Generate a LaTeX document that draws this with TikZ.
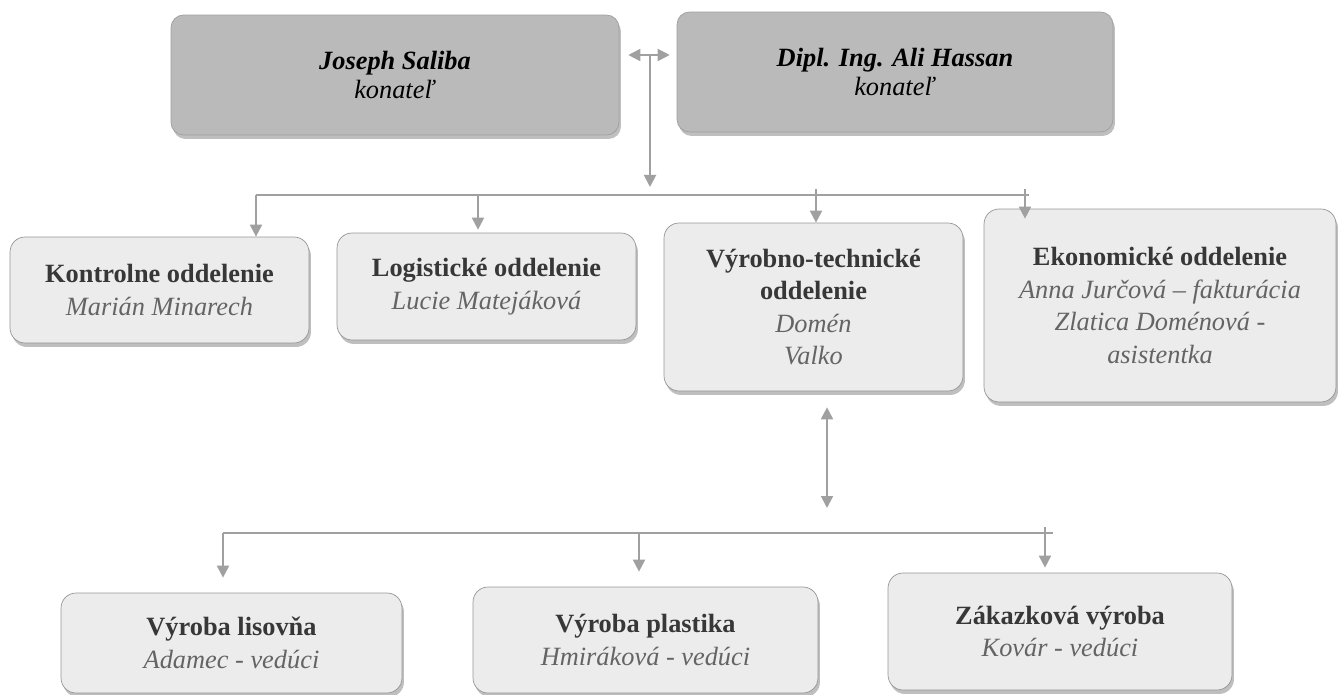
\documentclass[tikz,border=0pt]{standalone}
\usepackage{fontspec}
\setmainfont{Liberation Serif}
\usetikzlibrary{arrows.meta,shadows}

\definecolor{linegray}{RGB}{160,160,160}
\definecolor{boxgray}{RGB}{236,236,236}
\definecolor{headgray}{RGB}{186,186,186}
\definecolor{framegray}{RGB}{150,150,150}
\definecolor{titlegray}{RGB}{55,55,55}
\definecolor{namegray}{RGB}{100,100,100}

\newcommand{\depttitle}[1]{\textcolor{titlegray}{\textbf{#1}}}
\newcommand{\deptname}[1]{\textcolor{namegray}{\textit{#1}}}

\begin{document}
\begin{tikzpicture}[x=0.02cm,y=-0.02cm]
      % Define styles for nodes
      \tikzstyle{boss} = [draw=headgray!85!black, rectangle, rounded corners=0.25cm,
      fill=headgray, align=center, inner sep=0pt,
      font=\fontsize{15}{17}\selectfont,
      drop shadow={shadow xshift=0.04cm, shadow yshift=-0.08cm, fill=black, opacity=0.25}]
      \tikzstyle{dept} = [draw=framegray, rectangle, rounded corners=0.3cm,
      fill=boxgray, align=center, inner sep=0pt,
      font=\fontsize{15}{18.5}\selectfont,
      drop shadow={shadow xshift=0.04cm, shadow yshift=-0.08cm, fill=black, opacity=0.25}]
      \tikzstyle{link} = [draw=linegray, line width=1.1pt]
      \tikzstyle{tip} = [link, -{Triangle[length=0.24cm,width=0.24cm]}]
      \tikzstyle{both} = [link, {Triangle[length=0.24cm,width=0.24cm]}-{Triangle[length=0.24cm,width=0.24cm]}]

      \useasboundingbox (0,0) rectangle (1339,695);

      % Konatelia at top
      \node[boss, minimum width=8.96cm, minimum height=2.4cm] (saliba) at (395,75)
        {\textbf{\textit{Joseph Saliba}}\\ \textit{konateľ}};
      \node[boss, minimum width=8.72cm, minimum height=2.4cm] (hassan) at (895,72)
        {\textbf{\textit{Dipl. Ing. Ali Hassan}}\\ \textit{konateľ}};

      % Departments
      \node[dept, minimum width=5.98cm, minimum height=2.12cm] (kontrolne) at (159.5,290)
        {\depttitle{Kontrolne oddelenie}\\ \deptname{Marián Minarech}};
      \node[dept, minimum width=5.98cm, minimum height=2.14cm] (logisticke) at (486.5,286.5)
        {\depttitle{Logistické oddelenie}\\ \deptname{Lucie Matejáková}};
      \node[dept, minimum width=5.98cm, minimum height=3.36cm] (vyrobno) at (813.5,307)
        {\depttitle{Výrobno-technické}\\ \depttitle{oddelenie}\\ \deptname{Domén}\\ \deptname{Valko}};
      \node[dept, minimum width=7.04cm, minimum height=3.86cm] (ekonomicke) at (1160,305.5)
        {\depttitle{Ekonomické oddelenie}\\ \deptname{Anna Jurčová – fakturácia}\\
         \deptname{Zlatica Doménová -}\\ \deptname{asistentka}};

      % Production
      \node[dept, minimum width=6.82cm, minimum height=2.0cm] (lisovna) at (231.5,643)
        {\depttitle{Výroba lisovňa}\\ \deptname{Adamec - vedúci}};
      \node[dept, minimum width=6.9cm, minimum height=2.12cm] (plastika) at (645.5,640)
        {\depttitle{Výroba plastika}\\ \deptname{Hmiráková - vedúci}};
      \node[dept, minimum width=6.88cm, minimum height=2.34cm] (zakazkova) at (1060,631.5)
        {\depttitle{Zákazková výroba}\\ \deptname{Kovár - vedúci}};

      % Connection points
      \coordinate (top) at (650,55);
      \coordinate (bus) at (650,195);
      \coordinate (b1) at (256,195);
      \coordinate (b2) at (478,195);
      \coordinate (b3) at (816,189);
      \coordinate (b4) at (1025,189);
      \coordinate (busend) at (1029,195);
      \coordinate (low) at (827,508);
      \coordinate (c1) at (223,533);
      \coordinate (c2) at (639,533);
      \coordinate (c3) at (1045,527);
      \coordinate (lowend) at (1053,533);

      % Connections at top
      \draw[both, shorten <=0.18cm, shorten >=0.14cm] (saliba.east |- top) -- (hassan.west |- top);
      \draw[tip, shorten >=0.16cm] (top) -- (bus);
      \draw[link] (b1) -- (busend);
      \draw[tip] (b1) -- (b1 |- kontrolne.north);
      \draw[tip, shorten >=0.06cm] (b2) -- (b2 |- logisticke.north);
      \draw[tip] (b3) -- (b3 |- vyrobno.north);
      \draw[tip, shorten >=-0.2cm] (b4) -- (b4 |- ekonomicke.north);

      % Connections at bottom
      \draw[both, shorten <=0.32cm] (low |- vyrobno.south) -- (low);
      \draw[link] (c1) -- (lowend);
      \draw[tip, shorten >=0.3cm] (c1) -- (c1 |- lisovna.north);
      \draw[tip, shorten >=0.3cm] (c2) -- (c2 |- plastika.north);
      \draw[tip, shorten >=0.1cm] (c3) -- (c3 |- zakazkova.north);
\end{tikzpicture}
\end{document}
